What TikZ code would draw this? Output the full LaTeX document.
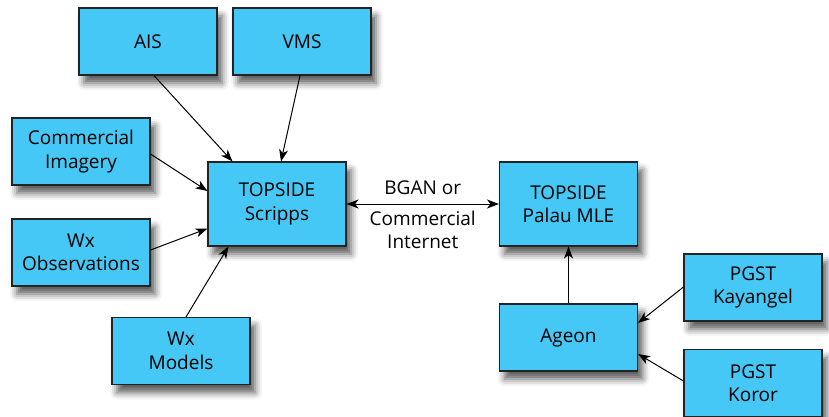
\documentclass[tikz,border=0pt]{standalone}
\usepackage{fontspec}
\setmainfont{Open Sans}
\usetikzlibrary{shapes, arrows.meta, positioning, shadows.blur}
\definecolor{boxblue}{RGB}{69,200,245}
\definecolor{boxline}{RGB}{35,35,35}
\begin{document}
\begin{tikzpicture}[>={Stealth[length=12pt, width=9pt, inset=3.5pt]}, x=1pt, y=-1pt,
    font=\fontsize{19}{23.5}\selectfont,
    box/.style={draw=boxline, line width=1.1pt, fill=boxblue, align=center,
        minimum width=138pt, minimum height=67pt, inner sep=0pt,
        blur shadow={shadow xshift=5pt, shadow yshift=-8pt,
            shadow blur radius=7pt, shadow opacity=65}},
    bigbox/.style={box, minimum height=84pt},
    link/.style={->, line width=1pt}]
\useasboundingbox (0,0) rectangle (829,417);
%
\node[box] (ais) at (148, 41.5) {AIS};
\node[box] (vms) at (302, 41.5) {VMS};
\node[box] (imagery) at (81, 151.5) {Commercial\\Imagery};
\node[box] (wxobs) at (81, 252.5) {Wx\\Observations};
\node[box] (wxmodels) at (181, 351) {Wx\\Models};
\node[bigbox] (scripps) at (277, 204) {TOPSIDE\\Scripps};
%
\node[bigbox] (palau) at (568.5, 204) {TOPSIDE\\Palau MLE};
\node[box] (ageon) at (568.5, 337.5) {Ageon};
\node[box] (kayangel) at (753, 287.5) {PGST\\Kayangel};
\node[box] (koror) at (753, 383) {PGST\\Koror};
%
\draw[link] ([xshift=6pt]ais.south) -- ([xshift=25pt]scripps.north west);
\draw[link] ([xshift=-2pt]vms.south) -- ([xshift=4pt]scripps.north);
\draw[link] ([yshift=-2.5pt]imagery.east) -- ([yshift=13pt]scripps.west);
\draw[link] ([yshift=2.5pt]wxobs.east) -- ([yshift=18pt]scripps.south west);
\draw[link] ([xshift=5pt]wxmodels.north) -- ([xshift=21pt]scripps.south west);
%
\draw[<->, line width=1pt] (scripps.east) -- (palau.west)
    node[midway, above=5pt] {BGAN or}
    node[midway, below=3pt, align=center] {Commercial\\Internet};
%
\draw[link] (ageon.north) -- (palau.south);
\draw[link] ([yshift=0.5pt]kayangel.west) -- ([yshift=14.5pt]ageon.east);
\draw[link] ([yshift=2pt]koror.west) -- ([yshift=-16.5pt]ageon.east);
\end{tikzpicture}
\end{document}
